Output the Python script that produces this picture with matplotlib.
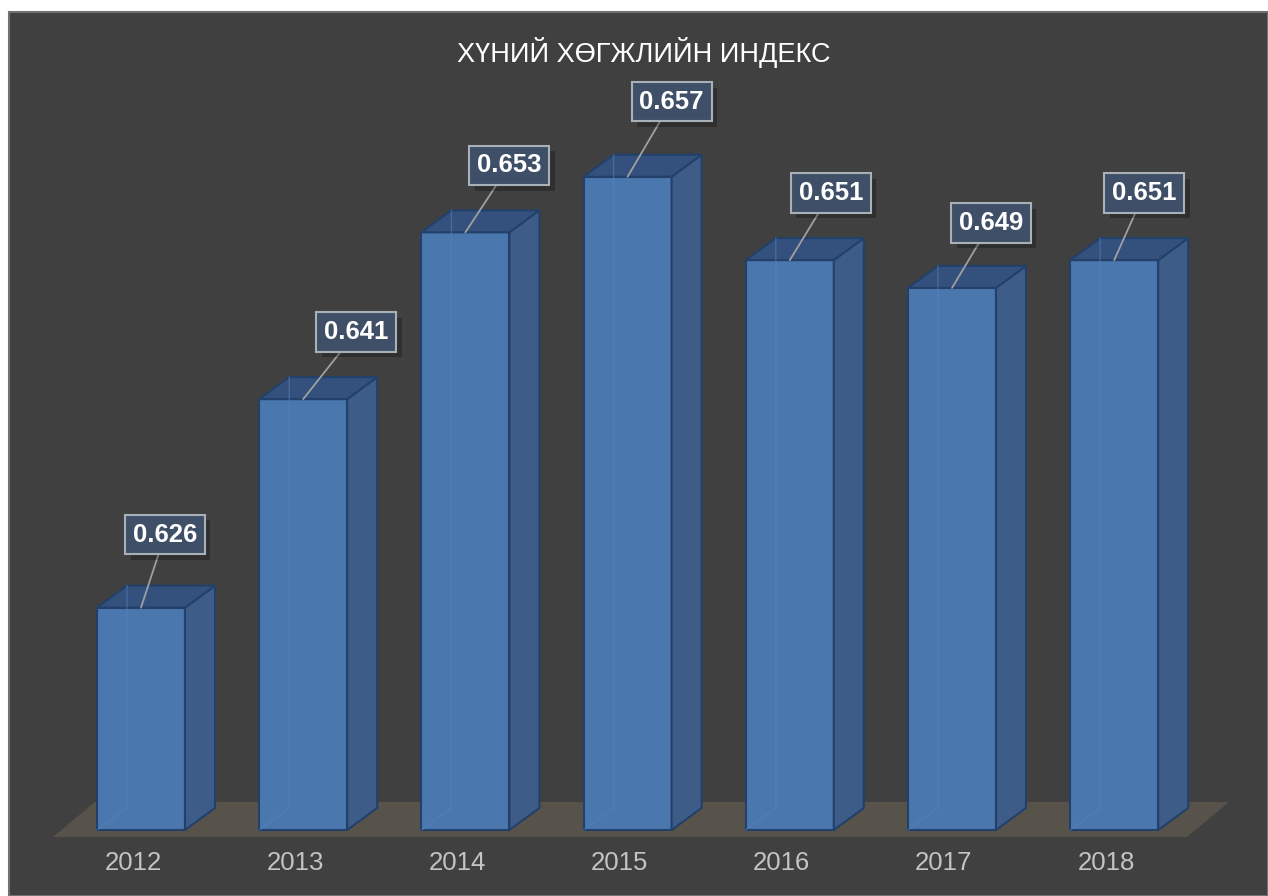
import matplotlib
matplotlib.use("Agg")
import matplotlib.pyplot as plt
import matplotlib.patheffects as pe
from matplotlib.patches import Rectangle, Polygon

plt.rcParams['font.family'] = ['Liberation Sans', 'DejaVu Sans']

# data
years = ["2012", "2013", "2014", "2015", "2016", "2017", "2018"]
hdi = [0.626, 0.641, 0.653, 0.657, 0.651, 0.649, 0.651]
title = "ХҮНИЙ ХӨГЖЛИЙН ИНДЕКС"

# label box offsets from bar top (pixels), as placed in the original
label_dx = [24, 53, 44, 44, 41, 39, 30]
label_dy = [73, 67, 67, 75, 67, 65, 67]

base = 0.61          # value at the floor
px_per_unit = 13900  # vertical scale (pixels per index unit)
step = 162.2         # pixels between bars

fig = plt.figure(figsize=(12.68, 8.96), dpi=100)
fig.patch.set_facecolor("white")
fig.patches.append(Rectangle((9 / 1268, 0), 1 - 9 / 1268, 1 - 12 / 896,
                             transform=fig.transFigure, facecolor="#404040",
                             edgecolor="#707070", lw=1.5, zorder=-1))

ax = fig.add_axes([0, 0, 1, 1])
ax.set_axis_off()
ax.patch.set_alpha(0)
ax.set_xlim(-141 / step, (1268 - 141) / step)
ax.set_ylim(base - 66 / px_per_unit, base + 830 / px_per_unit)

w = 88 / step        # bar front width
dx = 30 / step       # depth offset x
dy = 22 / px_per_unit  # depth offset y

# floor
fx0, fx1 = -88 / step, (1187 - 141) / step
fdx = 42 / step
fy0 = base - 7 / px_per_unit
fy1 = base + 28 / px_per_unit
ax.add_patch(Polygon([(fx0, fy0), (fx1, fy0), (fx1 + fdx, fy1), (fx0 + fdx, fy1)],
                     closed=True, facecolor="#57534b", edgecolor="none", zorder=1))

edge = "#22406a"
for i, v in enumerate(hdi):
    x0, x1 = i - w / 2, i + w / 2
    # front face
    ax.add_patch(Rectangle((x0, base), w, v - base, facecolor="#4a77ad",
                           edgecolor=edge, lw=1.5, zorder=3))
    # faint hidden edges seen through the bar
    ax.plot([x0, x0 + dx, x0 + dx], [base, base + dy, v + dy], color="#5584c0",
            lw=1, alpha=0.5, zorder=3.5)
    # right side
    ax.add_patch(Polygon([(x1, base), (x1 + dx, base + dy), (x1 + dx, v + dy), (x1, v)],
                         closed=True, facecolor="#3d5c88", edgecolor=edge, lw=1.5, zorder=3))
    # top
    ax.add_patch(Polygon([(x0, v), (x1, v), (x1 + dx, v + dy), (x0 + dx, v + dy)],
                         closed=True, facecolor="#34517d", edgecolor=edge, lw=1.5, zorder=3))

    ann = ax.annotate(f"{v:.3f}", xy=(i, v),
                      xytext=(label_dx[i] * 0.72, label_dy[i] * 0.72),
                      textcoords="offset points",
                      ha="center", va="center", fontsize=18.5, fontweight="bold",
                      color="white", zorder=5,
                      bbox=dict(boxstyle="square,pad=0.3", fc="#3f4f68", ec="#a8b0b8", lw=1.5),
                      arrowprops=dict(arrowstyle="-", color="#a0a0a0", lw=1.3,
                                      shrinkA=0, shrinkB=0))
    ann.get_bbox_patch().set_path_effects([
        pe.SimplePatchShadow(offset=(4, -4), shadow_rgbFace="black", alpha=0.25),
        pe.Normal()])

    ax.text(i - 0.05, base - 33 / px_per_unit, years[i], ha="center", va="center",
            fontsize=18.5, color="#c4c4c4", zorder=4)

fig.text(644 / 1268, 1 - 52 / 896, title, ha="center", va="center",
         fontsize=19.5, color="white")

fig.savefig("out.png", dpi=100)
